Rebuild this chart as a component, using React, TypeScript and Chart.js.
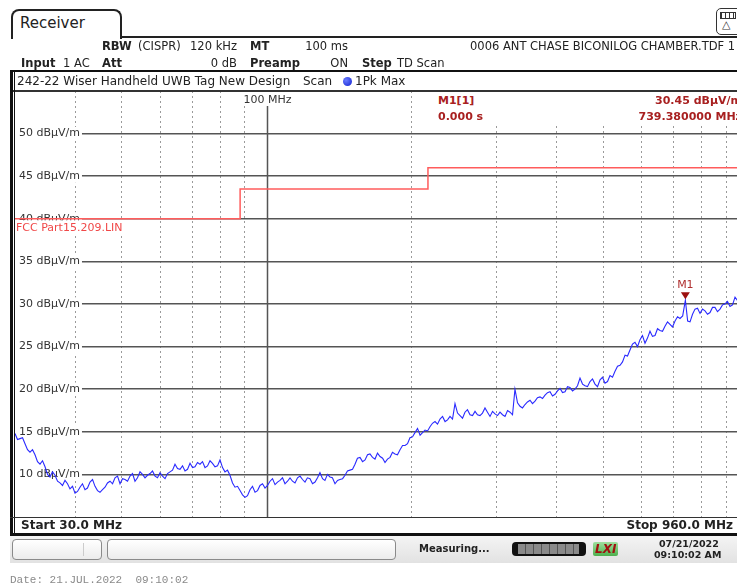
import React, { useEffect, useRef } from "react";
import { Chart, registerables } from "chart.js";

Chart.register(...registerables);

// ---- Data ----
const scanFreqMHz: number[] = [
  30.0, 30.36, 30.73, 31.1, 31.47, 31.85, 32.23, 32.62, 33.01, 33.41, 33.81, 34.22, 34.63, 35.05, 35.46, 35.89, 36.32, 36.76, 37.2, 37.65,
  38.1, 38.56, 39.02, 39.49, 39.97, 40.45, 40.93, 41.42, 41.92, 42.42, 42.94, 43.46, 43.98, 44.51, 45.04, 45.58, 46.13, 46.68, 47.25, 47.82,
  48.39, 48.97, 49.56, 50.16, 50.76, 51.37, 51.99, 52.61, 53.24, 53.88, 54.53, 55.19, 55.85, 56.52, 57.2, 57.89, 58.59, 59.29,
  60.0, 60.72, 61.46, 62.2, 62.94, 63.7, 64.46, 65.24, 66.02, 66.82, 67.62, 68.44, 69.26, 70.1, 70.92, 71.78, 72.64, 73.52, 74.4, 75.3,
  76.2, 77.12, 78.04, 78.98, 79.94, 80.9, 81.86, 82.84, 83.84, 84.86, 85.88, 86.92, 87.96, 89.02, 90.08, 91.16, 92.26, 93.36, 94.5, 95.64,
  96.78, 97.94, 99.12, 100.32, 101.52, 102.74, 103.98, 105.22, 106.48, 107.76, 109.06, 110.38, 111.7, 113.04, 114.4, 115.78, 117.18, 118.58,
  120.0, 121.4, 122.9, 124.4, 125.9, 127.4, 128.9, 130.5, 132.0, 133.6, 135.2, 136.8, 138.5, 140.2, 141.8, 143.6, 145.3, 147.0, 148.8, 150.6,
  152.4, 154.2, 156.1, 158.0, 159.9, 161.8, 163.7, 165.7, 167.7, 169.7, 171.8, 173.9, 175.9, 178.0, 180.2, 182.3, 184.5, 186.7, 189.0, 191.3,
  193.6, 195.9, 198.2, 200.6, 203.0, 205.5, 208.0, 210.5, 213.0, 215.6, 218.1, 220.7, 223.4, 226.1, 228.8, 231.6, 234.4, 237.2,
  240.0, 242.9, 245.8, 248.8, 251.8, 254.8, 257.8, 260.9, 264.1, 267.3, 270.5, 273.7, 277.0, 280.3, 283.7, 287.1, 290.6, 294.1, 297.6, 301.2,
  304.8, 308.5, 312.2, 316.0, 319.8, 323.6, 327.4, 331.4, 335.4, 339.4, 343.5, 347.6, 351.8, 356.0, 360.3, 364.6, 369.0, 373.5, 378.0, 382.5,
  387.1, 391.8, 396.5, 401.3, 406.1, 411.0, 415.9, 420.9, 425.9, 431.0, 436.2, 441.5, 446.8, 452.2, 457.6, 463.1, 468.7, 474.3,
  480.0, 485.8, 491.7, 497.6, 503.5, 509.6, 515.7, 521.9, 528.2, 534.6, 541.0, 547.5, 554.1, 560.7, 567.4, 574.2, 581.1, 588.1, 595.2, 602.3,
  609.6, 616.9, 624.3, 631.8, 639.5, 647.2, 654.9, 662.8, 670.7, 678.8, 687.0, 695.2, 703.7, 712.2, 720.6, 729.9, 739.38, 747.5, 756.0, 765.1,
  774.2, 783.5, 793.0, 802.5, 812.2, 821.9, 831.8, 841.8, 851.8, 862.1, 872.5, 883.0, 893.6, 904.3, 915.2, 926.2, 937.4, 948.6, 960.0,
];
const scanLevel: number[] = [
  14.8, 14.1, 14.2, 14.3, 13.6, 12.9, 12.6, 12.9, 12.3, 11.5, 11.2, 11.6, 10.9, 10.0, 9.7, 10.3, 9.9, 9.2, 9.0, 8.7,
  9.3, 8.9, 8.3, 8.6, 7.8, 8.0, 8.5, 8.9, 8.2, 8.4, 9.1, 9.4, 8.6, 8.1, 7.9, 8.2, 8.5, 9.0, 9.2, 8.9,
  9.6, 9.8, 8.9, 9.5, 9.4, 9.2, 9.8, 10.1, 9.2, 9.6, 10.3, 10.0, 9.6, 9.9, 10.1, 10.4, 9.8, 9.6,
  10.2, 9.8, 9.5, 10.1, 10.3, 10.5, 11.2, 10.7, 10.6, 11.0, 10.4, 10.6, 11.3, 10.8, 10.9, 11.4, 11.2, 11.5, 10.8, 11.0,
  11.6, 11.3, 10.9, 11.0, 11.7, 10.8, 10.3, 10.5, 9.9, 9.0, 8.5, 8.6, 8.1, 7.6, 7.3, 7.5, 8.2, 8.6, 7.9, 8.1,
  8.7, 8.9, 8.4, 8.7, 9.2, 9.5, 8.8, 9.1, 9.3, 9.6, 8.9, 9.2, 9.6, 9.2, 9.0, 9.6, 9.8, 9.4,
  9.1, 9.6, 9.5, 8.9, 9.1, 9.6, 10.2, 9.5, 9.3, 10.0, 9.7, 9.6, 8.9, 9.3, 9.4, 9.5, 9.9, 10.4, 10.5, 10.6,
  11.2, 11.9, 12.0, 11.5, 11.7, 12.3, 12.4, 12.0, 11.8, 12.5, 12.1, 11.9, 11.4, 11.8, 12.0, 12.6, 12.4, 12.3, 12.9, 13.4,
  13.4, 13.6, 14.3, 14.4, 14.9, 15.4, 14.6, 14.9, 15.2, 15.1, 15.6, 16.0, 16.2, 15.9, 16.5, 16.8, 16.2, 16.4,
  16.8, 16.5, 18.3, 17.2, 16.9, 16.6, 17.3, 17.6, 17.0, 16.9, 17.4, 17.0, 16.9, 17.2, 17.8, 17.3, 16.8, 17.4, 17.1, 16.9,
  17.3, 17.0, 16.8, 17.5, 17.3, 17.0, 20.0, 18.4, 18.0, 17.8, 18.2, 18.5, 18.7, 18.3, 18.6, 19.0, 19.1, 18.9, 19.3, 19.6,
  19.7, 19.2, 19.4, 19.8, 20.1, 19.6, 19.7, 20.3, 20.2, 19.8, 20.0, 20.4, 21.3, 20.6, 20.4, 20.3, 20.9, 21.2,
  20.6, 20.3, 21.1, 21.4, 20.7, 20.9, 21.6, 21.4, 22.1, 22.7, 22.8, 23.2, 24.0, 23.9, 24.6, 25.3, 25.5, 25.0, 25.8, 26.3,
  25.4, 26.0, 26.8, 26.2, 26.3, 27.1, 26.9, 26.8, 27.4, 27.9, 27.6, 27.3, 28.0, 28.5, 28.3, 28.6, 30.45, 28.0, 27.9, 28.8,
  29.4, 29.5, 28.9, 29.4, 29.2, 28.8, 29.0, 29.6, 29.6, 29.1, 29.4, 29.9, 30.0, 30.3, 29.7, 29.9, 30.8, 30.4, 31.2,
];
const limitFreqMHz: number[] = [30, 88, 88, 216, 216, 960];
const limitLevel: number[] = [40, 40, 43.5, 43.5, 46, 46];
const levelTicks: number[] = [10, 15, 20, 25, 30, 35, 40, 45, 50];
const freqGridMHz: number[] = [40, 50, 60, 70, 80, 90, 200, 300, 400, 500, 600, 700, 800, 900];
const freqMajorMHz = 100;
const freqStartMHz = 30;
const freqStopMHz = 960;
const levelMin = 5;
const levelMax = 55;
const markerFreqMHz = 739.38;
const markerLevel = 30.45;
const limitName = "FCC Part15.209.LIN";
const unit = "dBµV/m";

const FONT = '"DejaVu Sans", Verdana, sans-serif';

const overlayPlugin = {
  id: "overlay",
  beforeDatasetsDraw(chart: any) {
    const { ctx, chartArea, scales } = chart;
    const xs = scales.x;
    const px = Math.round(xs.getPixelForValue(freqMajorMHz)) + 0.5;
    ctx.save();
    ctx.strokeStyle = "#555";
    ctx.lineWidth = 1.5;
    ctx.beginPath();
    ctx.moveTo(px, chartArea.top);
    ctx.lineTo(px, chartArea.bottom);
    ctx.stroke();
    ctx.font = `11px ${FONT}`;
    const label = `${freqMajorMHz} MHz`;
    const w = ctx.measureText(label).width;
    ctx.fillStyle = "#fff";
    ctx.fillRect(px - w / 2 - 2, chartArea.top + 1, w + 4, 14);
    ctx.fillStyle = "#333";
    ctx.textAlign = "center";
    ctx.textBaseline = "middle";
    ctx.fillText(label, px, chartArea.top + 9);
    ctx.restore();
  },
  afterDatasetsDraw(chart: any) {
    const { ctx, chartArea, scales } = chart;
    const xs = scales.x;
    const ys = scales.y;
    ctx.save();
    ctx.font = `11px ${FONT}`;
    const ly = ys.getPixelForValue(limitLevel[0]);
    const lw = ctx.measureText(limitName).width;
    ctx.fillStyle = "#fff";
    ctx.fillRect(chartArea.left, ly + 1.5, lw + 3, 14);
    ctx.fillStyle = "#f04848";
    ctx.textAlign = "left";
    ctx.textBaseline = "middle";
    ctx.fillText(limitName, chartArea.left + 1, ly + 9);
    const mx = xs.getPixelForValue(markerFreqMHz);
    const my = ys.getPixelForValue(markerLevel);
    ctx.fillStyle = "#9c1010";
    ctx.beginPath();
    ctx.moveTo(mx - 4.5, my - 8);
    ctx.lineTo(mx + 4.5, my - 8);
    ctx.lineTo(mx, my - 1);
    ctx.closePath();
    ctx.fill();
    ctx.fillStyle = "#b03030";
    ctx.textAlign = "center";
    ctx.fillText("M1", mx, my - 15);
    ctx.restore();
  },
};

function T(props: {
  x: number;
  y: number;
  children: React.ReactNode;
  bold?: boolean;
  size?: number;
  color?: string;
  right?: boolean;
  family?: string;
}) {
  const { x, y, children, bold, size = 11.5, color = "#222", right, family } = props;
  return (
    <div
      style={{
        position: "absolute",
        left: x,
        top: y,
        transform: right ? "translate(-100%, -50%)" : "translateY(-50%)",
        fontSize: size,
        fontWeight: bold ? "bold" : "normal",
        color,
        whiteSpace: "pre",
        lineHeight: 1.2,
        fontFamily: family || FONT,
      }}
    >
      {children}
    </div>
  );
}

function Box(props: { l: number; t: number; w: number; h: number; style?: React.CSSProperties; children?: React.ReactNode }) {
  return (
    <div style={{ position: "absolute", left: props.l, top: props.t, width: props.w, height: props.h, boxSizing: "border-box", ...props.style }}>
      {props.children}
    </div>
  );
}

export default function App() {
  const canvasRef = useRef<HTMLCanvasElement | null>(null);

  useEffect(() => {
    const canvas = canvasRef.current;
    if (!canvas) return;
    const chart = new Chart(canvas, {
      type: "line",
      data: {
        datasets: [
          {
            label: limitName,
            data: limitFreqMHz.map((f, i) => ({ x: f, y: limitLevel[i] })),
            borderColor: "#ff5c5c",
            borderWidth: 1.5,
            pointRadius: 0,
            tension: 0,
            order: 2,
          },
          {
            label: "1Pk Max",
            data: scanFreqMHz.map((f, i) => ({ x: f, y: scanLevel[i] })),
            borderColor: "#2a2aff",
            borderWidth: 1.1,
            pointRadius: 0,
            tension: 0,
            order: 1,
          },
        ],
      },
      options: {
        responsive: false,
        animation: false,
        events: [],
        layout: { padding: { left: 15, top: 91, right: 10, bottom: 70 } },
        plugins: { legend: { display: false }, tooltip: { enabled: false } },
        scales: {
          x: {
            type: "logarithmic",
            min: freqStartMHz,
            max: freqStopMHz,
            afterBuildTicks: (s: any) => {
              s.ticks = freqGridMHz.map((v) => ({ value: v }));
            },
            afterFit: (s: any) => {
              s.height = 0;
            },
            ticks: { display: false },
            grid: { color: "#9a9a9a", lineWidth: 1, drawTicks: false },
            border: { display: false, dash: [2, 3] },
          },
          y: {
            type: "linear",
            min: levelMin,
            max: levelMax,
            afterBuildTicks: (s: any) => {
              s.ticks = levelTicks.map((v) => ({ value: v }));
            },
            afterFit: (s: any) => {
              s.width = 0;
            },
            ticks: {
              mirror: true,
              padding: 4,
              color: "#333",
              font: { family: FONT, size: 11 },
              callback: (v: any) => `${v} ${unit}`,
              showLabelBackdrop: true,
              backdropColor: "#fff",
              backdropPadding: { left: 4, right: 2, top: 0, bottom: 0 },
            },
            grid: { color: "#555", lineWidth: 1.5, drawTicks: false },
            border: { display: false },
          },
        },
      },
      plugins: [overlayPlugin],
    } as any);
    return () => chart.destroy();
  }, []);

  return (
    <div
      style={{
        position: "absolute",
        left: 0,
        top: 0,
        width: 737,
        height: 587,
        overflow: "hidden",
        background: "#fff",
        fontFamily: FONT,
      }}
    >
      <canvas ref={canvasRef} width={750} height={587} style={{ position: "absolute", left: 0, top: 0, width: 750, height: 587 }} />

      {/* Tab */}
      <Box l={11} t={9} w={111} h={30} style={{ border: "2px solid #222", borderBottom: "none", borderRadius: "8px 8px 0 0", background: "#fff" }} />
      <T x={20} y={23} size={15}>Receiver</T>
      <Box l={120} t={36} w={630} h={2} style={{ background: "#222" }} />

      {/* Top right icon */}
      <Box l={716} t={8} w={26} h={27} style={{ border: "1.5px solid #333", borderRadius: 5, background: "#fff" }}>
        <div style={{ position: "absolute", left: 3, top: 3, width: 14, height: 5, border: "1px solid #333", background: "repeating-linear-gradient(90deg,#333 0 1px,#fff 1px 4px)" }} />
        <div style={{ position: "absolute", left: 5, top: 10, fontSize: 11, lineHeight: 1, color: "#333" }}>△</div>
      </Box>

      {/* Header rows */}
      <T x={102} y={47} bold>RBW</T>
      <T x={138} y={47}>(CISPR)</T>
      <T x={237} y={47} right>120 kHz</T>
      <T x={250} y={47} bold>MT</T>
      <T x={348} y={47} right>100 ms</T>
      <T x={470} y={47}>0006 ANT CHASE BICONILOG CHAMBER.TDF 1</T>

      <T x={21} y={64} bold>Input</T>
      <T x={63} y={64}>1 AC</T>
      <T x={102} y={64} bold>Att</T>
      <T x={237} y={64} right>0 dB</T>
      <T x={250} y={64} bold>Preamp</T>
      <T x={348} y={64} right>ON</T>
      <T x={362} y={64} bold>Step</T>
      <T x={397} y={64}>TD Scan</T>

      {/* Frame */}
      <Box l={10} t={70} w={740} h={2} style={{ background: "#111" }} />
      <Box l={10} t={90} w={740} h={1.5} style={{ background: "#333" }} />
      <Box l={10} t={70} w={3} h={466} style={{ background: "#111" }} />
      <Box l={14} t={70} w={1} h={466} style={{ background: "#111" }} />
      <Box l={10} t={516.5} w={740} h={1.5} style={{ background: "#333" }} />
      <Box l={10} t={533} w={740} h={3} style={{ background: "#111" }} />

      <T x={17} y={81} size={12}>242-22 Wiser Handheld UWB Tag New Design</T>
      <T x={303} y={81} size={12}>Scan</T>
      <div style={{ position: "absolute", left: 343, top: 77, width: 9, height: 9, borderRadius: "50%", background: "radial-gradient(circle at 35% 35%, #6a7cff, #1020d0)" }} />
      <T x={355} y={81} size={12}>1Pk Max</T>

      {/* Marker info */}
      <Box l={430} t={92} w={320} h={31} style={{ background: "#fff" }} />
      <T x={438} y={101} bold size={11} color="#a82020">M1[1]</T>
      <T x={438} y={117} bold size={11} color="#a82020">0.000 s</T>
      <T x={742} y={101} bold size={11} right color="#a82020">30.45 dBµV/m</T>
      <T x={742} y={117} bold size={11} right color="#a82020">739.380000 MHz</T>

      {/* Start / Stop */}
      <T x={21} y={525} bold size={12}>Start 30.0 MHz</T>
      <T x={733} y={525} bold size={12} right>Stop 960.0 MHz</T>

      {/* Status bar */}
      <Box l={10} t={536} w={740} h={27} style={{ background: "linear-gradient(#f4f4f4, #e2e2e2)" }} />
      <Box l={12} t={539} w={90} h={21} style={{ border: "1px solid #8a8a8a", borderRadius: 4, background: "linear-gradient(#ffffff, #ececec)" }}>
        <div style={{ position: "absolute", left: 70, top: 3, width: 1, height: 13, background: "#ccc" }} />
      </Box>
      <Box l={107} t={539} w={289} h={21} style={{ border: "1px solid #8a8a8a", borderRadius: 4, background: "linear-gradient(#ffffff, #ececec)" }} />
      <T x={419} y={549} bold size={10}>Measuring...</T>
      <Box l={512} t={542} w={74} h={14} style={{ background: "#111", borderRadius: 4 }}>
        <div style={{ position: "absolute", left: 6, top: 2, width: 61, height: 10, background: "repeating-linear-gradient(90deg,#8a8a8a 0 7px,#555 7px 8px)" }} />
      </Box>
      <Box l={593} t={542} w={25} h={14} style={{ background: "linear-gradient(#9ee09e, #4fb04f)", borderRadius: 2 }}>
        <div style={{ position: "absolute", left: 2, top: 0, fontSize: 12, lineHeight: "14px", fontWeight: "bold", fontStyle: "italic", color: "#a01010" }}>LXI</div>
      </Box>
      <T x={659} y={544} bold size={9.5}>07/21/2022</T>
      <T x={654} y={555} bold size={9.5}>09:10:02 AM</T>

      {/* Footer */}
      <T x={10} y={581} size={11} color="#8a8a8a" family='"Liberation Mono", "DejaVu Sans Mono", monospace'>Date: 21.JUL.2022  09:10:02</T>
    </div>
  );
}
